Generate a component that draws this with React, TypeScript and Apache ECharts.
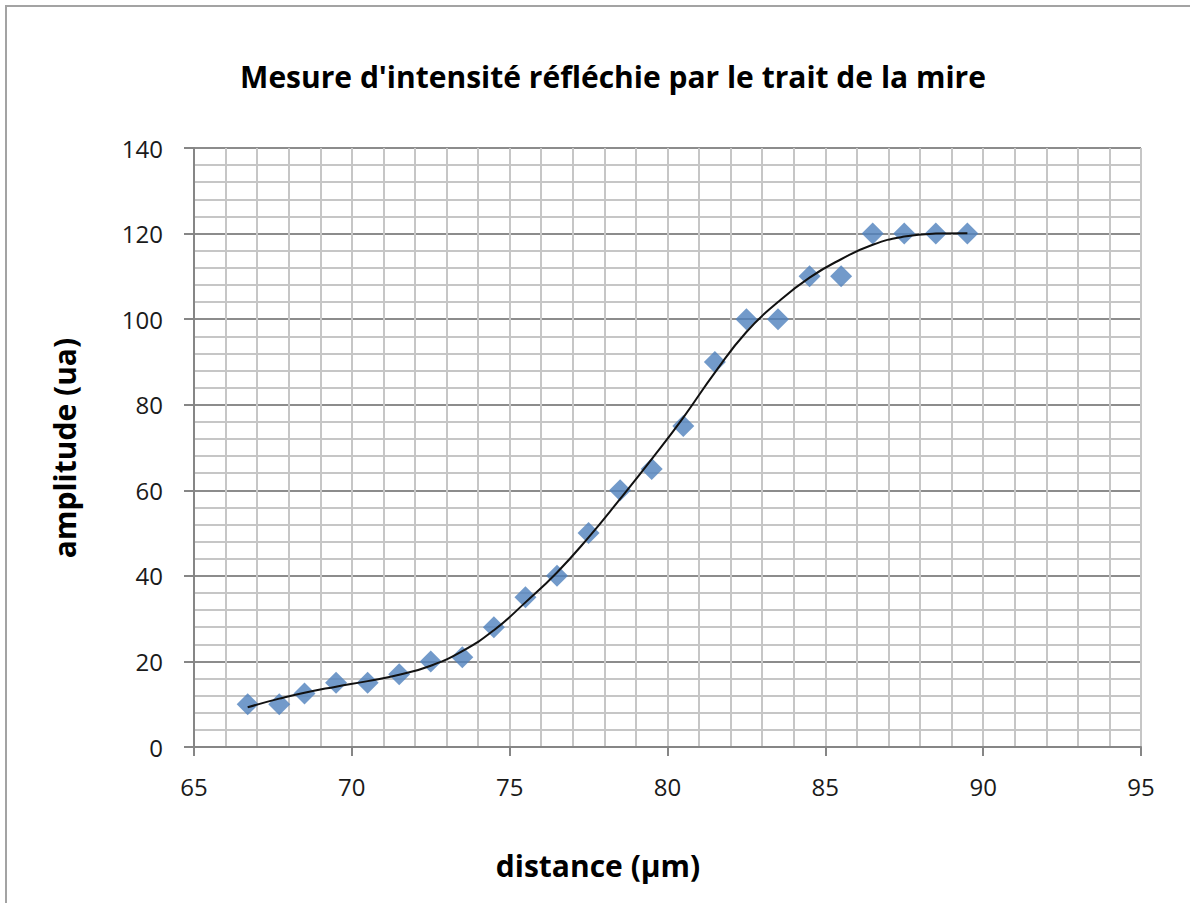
import React, { useEffect, useRef } from "react";
import * as echarts from "echarts";

// Measured points (distance in µm, amplitude in ua)
const distance = [66.7, 67.7, 68.5, 69.5, 70.5, 71.5, 72.5, 73.5, 74.5, 75.5, 76.5, 77.5, 78.5, 79.5, 80.5, 81.5, 82.5, 83.5, 84.5, 85.5, 86.5, 87.5, 88.5, 89.5];
const amplitude = [10, 10, 12.5, 15, 15, 17, 20, 21, 28, 35, 40, 50, 60, 65, 75, 90, 100, 100, 110, 110, 120, 120, 120, 120];

// Trend curve
const trendX = [66.7, 67.7, 68.5, 69.5, 70.5, 71.5, 72.5, 73.5, 74.5, 75.5, 76.5, 77.5, 78.5, 79.5, 80.5, 81.5, 82.5, 83.5, 84.5, 85.5, 86.5, 87.5, 88.5, 89.5];
const trendY = [9.3, 11.3, 12.7, 14.1, 15.4, 16.9, 19.0, 22.4, 27.3, 33.8, 40.8, 49, 58, 67.3, 77, 87.5, 97, 104, 109.7, 114, 117.4, 119.3, 120, 120.1];

const titleText = "Mesure d'intensité réfléchie par le trait de la mire";
const xAxisTitle = "distance (µm)";
const yAxisTitle = "amplitude (ua)";

const FONT = "'Open Sans', 'Noto Sans', sans-serif";

export default function App() {
  const ref = useRef<HTMLDivElement>(null);

  useEffect(() => {
    if (!ref.current) return;
    const chart = echarts.init(ref.current, null, { renderer: "svg" });
    const points = distance.map((d, i) => [d, amplitude[i]]);
    const trend = trendX.map((d, i) => [d, trendY[i]]);

    chart.setOption({
      animation: false,
      backgroundColor: "#ffffff",
      textStyle: { fontFamily: FONT },
      grid: { left: 194, right: 49, top: 148, bottom: 156, containLabel: false },
      xAxis: {
        type: "value",
        min: 65,
        max: 95,
        interval: 5,
        axisLine: { show: true, onZero: false, lineStyle: { color: "#868686", width: 2 } },
        axisTick: { show: true, length: 9, lineStyle: { color: "#868686", width: 2 } },
        axisLabel: { color: "#1a1a1a", fontSize: 24, fontFamily: FONT, margin: 27 },
        splitLine: { show: true, lineStyle: { color: "#c6c6c6", width: 2 } },
        minorTick: { show: false, splitNumber: 5 },
        minorSplitLine: { show: true, lineStyle: { color: "#c6c6c6", width: 2 } },
      },
      yAxis: {
        type: "value",
        min: 0,
        max: 140,
        interval: 20,
        axisLine: { show: true, onZero: false, lineStyle: { color: "#868686", width: 2 } },
        axisTick: { show: true, length: 10, lineStyle: { color: "#868686", width: 2 } },
        axisLabel: { color: "#1a1a1a", fontSize: 24, fontFamily: FONT, margin: 31 },
        splitLine: { show: true, lineStyle: { color: "#8c8c8c", width: 2 } },
        minorTick: { show: false, splitNumber: 5 },
        minorSplitLine: { show: true, lineStyle: { color: "#c6c6c6", width: 2 } },
      },
      graphic: [
        {
          type: "rect",
          silent: true,
          shape: { x: 6, y: 6, width: 1300, height: 1000 },
          style: { fill: "none", stroke: "#a3a3a3", lineWidth: 2 },
          z: 100,
        },
        {
          type: "text",
          x: 613,
          y: 76,
          style: {
            text: titleText,
            font: `bold 30px ${FONT}`,
            fill: "#000000",
            textAlign: "center",
            textVerticalAlign: "middle",
          },
        },
        {
          type: "text",
          x: 598,
          y: 865,
          style: {
            text: xAxisTitle,
            font: `bold 30px ${FONT}`,
            fill: "#000000",
            textAlign: "center",
            textVerticalAlign: "middle",
          },
        },
        {
          type: "text",
          x: 64,
          y: 448,
          rotation: Math.PI / 2,
          style: {
            text: yAxisTitle,
            font: `bold 30px ${FONT}`,
            fill: "#000000",
            textAlign: "center",
            textVerticalAlign: "middle",
          },
        },
      ],
      series: [
        {
          type: "scatter",
          name: "mesures",
          data: points,
          symbol: "diamond",
          symbolSize: 22,
          itemStyle: { color: "#4f81bd" },
          z: 2,
        },
        {
          type: "line",
          name: "tendance",
          data: trend,
          showSymbol: false,
          smooth: true,
          lineStyle: { color: "#111111", width: 2 },
          z: 3,
        },
      ],
    });

    return () => chart.dispose();
  }, []);

  return (
    <div
      ref={ref}
      style={{ position: "fixed", left: 0, top: 0, width: 1190, height: 903 }}
    />
  );
}
